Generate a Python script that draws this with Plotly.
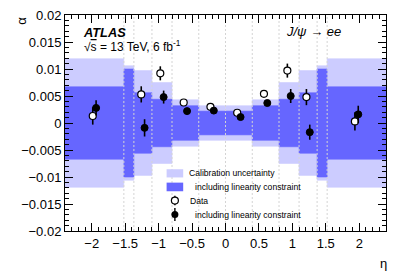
import plotly.graph_objects as go

# ---------------- data ----------------
bin_edges = [-2.4, -1.52, -1.37, -1.10, -0.80, -0.40, 0.00, 0.40, 0.80, 1.10, 1.37, 1.52, 2.4]
# half-widths of the uncertainty bands (per bin)
calib_unc = [0.0119, 0.0106, 0.0097, 0.0075, 0.0043, 0.0032, 0.0032, 0.0043, 0.0075, 0.0097, 0.0106, 0.0119]
calib_lin_unc = [0.0067, 0.0100, 0.0056, 0.0044, 0.0032, 0.0022, 0.0022, 0.0032, 0.0044, 0.0056, 0.0100, 0.0067]
# data points (None in the crack bins)
alpha_data = [0.0013, None, 0.0053, 0.0092, 0.0038, 0.0030, 0.0019, 0.0054, 0.0097, 0.0048, None, 0.0003]
alpha_data_err = [0.0016, None, 0.0015, 0.0013, 0.0003, 0.0003, 0.0003, 0.0003, 0.0013, 0.0015, None, 0.0017]
alpha_lin = [0.0028, None, -0.0009, 0.0048, 0.0022, 0.0023, 0.0011, 0.0037, 0.0050, -0.0017, None, 0.0016]
alpha_lin_err = [0.0014, None, 0.0016, 0.0012, 0.0003, 0.0003, 0.0003, 0.0003, 0.0013, 0.0014, None, 0.0016]
dash_edges = bin_edges[1:-1]

x_tick_vals = [-2, -1.5, -1, -0.5, 0, 0.5, 1, 1.5, 2]
x_tick_text = ["\u22122", "\u22121.5", "\u22121", "\u22120.5", "0", "0.5", "1", "1.5", "2"]
y_tick_vals = [-0.02, -0.015, -0.01, -0.005, 0, 0.005, 0.01, 0.015, 0.02]
y_tick_text = ["\u22120.02", "\u22120.015", "\u22120.01", "\u22120.005", "0", "0.005", "0.01", "0.015", "0.02"]

legend_labels = ["Calibration uncertainty", "including linearity constraint", "Data", "including linearity constraint"]

# ---------------- styles ----------------
FONT = "Liberation Sans, Arial, Helvetica, sans-serif"
LIGHT = "#ccccff"
DARK = "#6666ff"
offset = 0.025

centers = [(a + b) / 2 for a, b in zip(bin_edges[:-1], bin_edges[1:])]
widths = [b - a for a, b in zip(bin_edges[:-1], bin_edges[1:])]

fig = go.Figure()

fig.add_trace(go.Bar(x=centers, y=[2 * h for h in calib_unc], base=[-h for h in calib_unc],
                     width=widths, marker=dict(color=LIGHT, line=dict(width=0.6, color=LIGHT)), hoverinfo="skip"))
fig.add_trace(go.Bar(x=centers, y=[2 * h for h in calib_lin_unc], base=[-h for h in calib_lin_unc],
                     width=widths, marker=dict(color=DARK, line=dict(width=0.6, color=DARK)), hoverinfo="skip"))

# dashed bin-edge lines
lx, ly = [], []
for e in dash_edges:
    lx += [e, e, None]
    ly += [-0.02, 0.02, None]
fig.add_trace(go.Scatter(x=lx, y=ly, mode="lines",
                         line=dict(color="#d4d4d4", width=1, dash="2px,2px"), hoverinfo="skip"))

# data points
xo = [c - offset for c in centers]
xf = [c + offset for c in centers]
fig.add_trace(go.Scatter(x=xo, y=alpha_data, mode="markers",
                         error_y=dict(type="data", array=alpha_data_err, width=0, thickness=1.6, color="black"),
                         marker=dict(symbol="circle", size=7, color="white", line=dict(color="black", width=1.2))))
fig.add_trace(go.Scatter(x=xf, y=alpha_lin, mode="markers",
                         error_y=dict(type="data", array=alpha_lin_err, width=0, thickness=1.6, color="black"),
                         marker=dict(symbol="circle", size=7, color="black", line=dict(color="black", width=1))))

# ---------------- legend (drawn on an overlay 0..1 axis) ----------------
leg_x_patch = [0.3165, 0.3682]
leg_rows_y = [0.267, 0.204, 0.141, 0.076]
fig.add_shape(type="rect", xref="paper", yref="paper", x0=leg_x_patch[0], x1=leg_x_patch[1],
              y0=leg_rows_y[0] - 0.019, y1=leg_rows_y[0] + 0.019, fillcolor=LIGHT, line=dict(width=0))
fig.add_shape(type="rect", xref="paper", yref="paper", x0=leg_x_patch[0], x1=leg_x_patch[1],
              y0=leg_rows_y[1] - 0.02, y1=leg_rows_y[1] + 0.02, fillcolor=DARK, line=dict(width=0))
mx = (leg_x_patch[0] + leg_x_patch[1]) / 2
fig.add_trace(go.Scatter(x=[mx], y=[leg_rows_y[2]], xaxis="x2", yaxis="y2", mode="markers",
                         error_y=dict(type="data", array=[0.022], width=0, thickness=1.4, color="black"),
                         marker=dict(size=7, color="white", line=dict(color="black", width=1.2))))
fig.add_trace(go.Scatter(x=[mx], y=[leg_rows_y[3]], xaxis="x2", yaxis="y2", mode="markers",
                         error_y=dict(type="data", array=[0.03], width=0, thickness=1.4, color="black"),
                         marker=dict(size=7, color="black")))
leg_text_x = [0.3806, 0.3993, 0.3819, 0.3993]
for lab, tx, ty in zip(legend_labels, leg_text_x, leg_rows_y):
    fig.add_annotation(text=lab, x=tx, y=ty, xref="paper", yref="paper", xanchor="left", yanchor="middle",
                       showarrow=False, font=dict(family=FONT, size=8.6, color="black"))

# ---------------- labels ----------------
fig.add_annotation(text="<b><i>ATLAS</i></b>", x=0.051, y=0.918, xref="paper", yref="paper",
                   xanchor="left", yanchor="middle", showarrow=False,
                   font=dict(family=FONT, size=12.8, color="black"))
fig.add_annotation(text="\u221a<span style='text-decoration:overline'>s</span> = 13 TeV, 6 fb<sup>-1</sup>",
                   x=0.053, y=0.858, xref="paper", yref="paper",
                   xanchor="left", yanchor="middle", showarrow=False,
                   font=dict(family=FONT, size=12, color="black"))
fig.add_annotation(text="<i>J/\u03c8 \u2192 ee</i>", x=0.682, y=0.922, xref="paper", yref="paper",
                   xanchor="left", yanchor="middle", showarrow=False,
                   font=dict(family=FONT, size=13, color="black"))
fig.add_annotation(text="\u03b1", x=-0.138, y=1.0, xref="paper", yref="paper", textangle=-90,
                   xanchor="center", yanchor="top", showarrow=False,
                   font=dict(family=FONT, size=13, color="black"))
fig.add_annotation(text="\u03b7", x=0.991, y=-0.152, xref="paper", yref="paper",
                   xanchor="center", yanchor="middle", showarrow=False,
                   font=dict(family=FONT, size=13, color="black"))

axis_common = dict(showgrid=False, zeroline=False, showline=True, linecolor="black", linewidth=1,
                   mirror="allticks", ticks="inside", tickcolor="black", tickwidth=1,
                   tickfont=dict(family=FONT, size=13, color="black"))
fig.update_layout(
    width=407, height=277,
    margin=dict(l=65, r=21, t=15, b=46, autoexpand=False),
    paper_bgcolor="white", plot_bgcolor="white",
    showlegend=False, barmode="overlay",
    xaxis=dict(range=[-2.4, 2.4], tickvals=x_tick_vals, ticktext=x_tick_text, ticklen=8,
               minor=dict(ticks="inside", ticklen=4, dtick=0.1, tick0=0, tickcolor="black"),
               **axis_common),
    yaxis=dict(range=[-0.02, 0.02], tickvals=y_tick_vals, ticktext=y_tick_text, ticklen=8,
               minor=dict(ticks="inside", ticklen=4, dtick=0.001, tick0=0, tickcolor="black"),
               **axis_common),
    xaxis2=dict(overlaying="x", range=[0, 1], visible=False, anchor="y2"),
    yaxis2=dict(overlaying="y", range=[0, 1], visible=False, anchor="x2"),
)

# remove the browser's default 8px page margin so the 407x277 figure fills the window
fig.write_html("out.html", config={"displayModeBar": False},
               post_script="document.body.style.margin='0px';document.body.style.overflow='hidden';")
